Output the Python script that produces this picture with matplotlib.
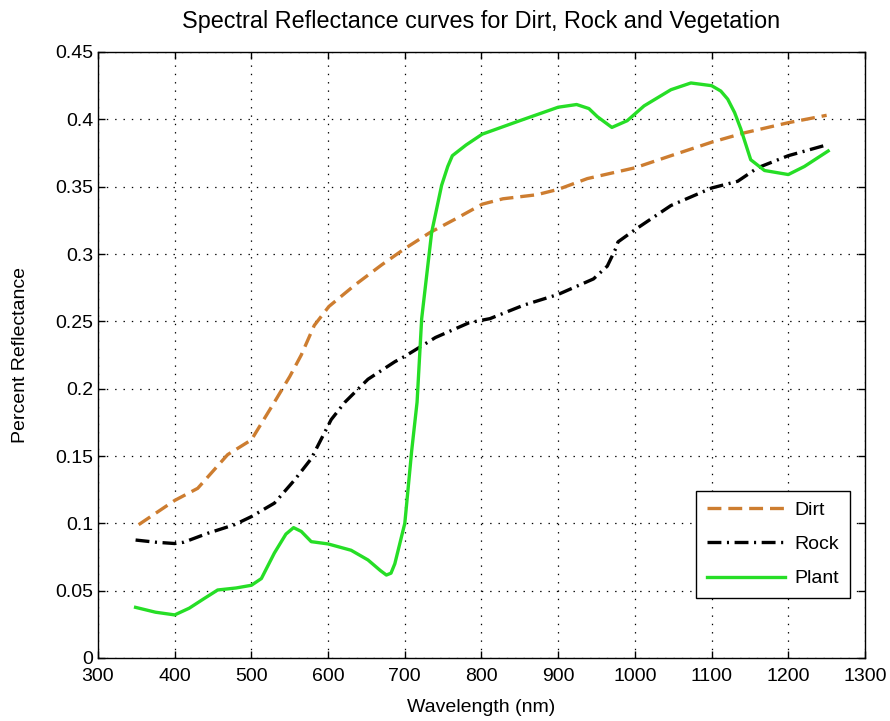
import matplotlib
matplotlib.use('Agg')
import matplotlib.pyplot as plt

# reflectance samples (wavelength in nm)
dirt_nm = [353, 400, 430, 469, 500, 530, 550, 565, 582, 601, 635, 670, 700, 733, 766,
           801, 828, 872, 900, 938, 1000, 1047, 1100, 1143, 1200, 1250]
dirt_refl = [0.099, 0.117, 0.126, 0.151, 0.162, 0.190, 0.209, 0.225, 0.247, 0.261, 0.277,
             0.292, 0.304, 0.316, 0.326, 0.337, 0.341, 0.344, 0.348, 0.356, 0.364,
             0.373, 0.383, 0.390, 0.3975, 0.403]

rock_nm = [349, 375, 400, 412, 443, 478, 500, 530, 556, 578, 604, 622, 652, 687,
           700, 740, 784, 811, 855, 900, 946, 964, 975, 978, 1000, 1047, 1100,
           1134, 1160, 1200, 1250]
rock_refl = [0.0876, 0.086, 0.085, 0.086, 0.0926, 0.099, 0.105, 0.115, 0.132, 0.148,
             0.177, 0.190, 0.207, 0.220, 0.224, 0.238, 0.249, 0.252, 0.262, 0.270,
             0.2815, 0.291, 0.304, 0.309, 0.318, 0.336, 0.349, 0.354, 0.364, 0.373,
             0.381]

plant_nm = [349, 375, 400, 419, 438, 456, 480, 500, 513, 530, 545, 555, 565, 578, 600,
            630, 652, 668, 676, 682, 687, 700, 709, 716, 722, 735, 748, 756, 762, 780,
            801, 850, 900, 924, 940, 951, 970, 990, 1012, 1047, 1073, 1100, 1112, 1121,
            1130, 1138, 1151, 1169, 1200, 1221, 1252]
plant_refl = [0.0376, 0.034, 0.032, 0.037, 0.044, 0.0505, 0.052, 0.054, 0.059, 0.078,
              0.092, 0.0968, 0.094, 0.0864, 0.0847, 0.080, 0.0728, 0.065, 0.0616,
              0.063, 0.070, 0.100, 0.154, 0.190, 0.252, 0.316, 0.351, 0.365, 0.373,
              0.381, 0.389, 0.399, 0.409, 0.411, 0.408, 0.402, 0.394, 0.399, 0.410,
              0.422, 0.427, 0.425, 0.421, 0.415, 0.405, 0.393, 0.370, 0.362, 0.359,
              0.365, 0.3765]

x_ticks = [300, 400, 500, 600, 700, 800, 900, 1000, 1100, 1200, 1300]
y_ticks = [0, 0.05, 0.1, 0.15, 0.2, 0.25, 0.3, 0.35, 0.4, 0.45]
y_ticklabels = ['0', '0.05', '0.1', '0.15', '0.2', '0.25', '0.3', '0.35', '0.4', '0.45']

plt.rcParams['font.family'] = ['Liberation Sans', 'DejaVu Sans']
plt.rcParams['font.size'] = 14
plt.rcParams['lines.scale_dashes'] = False

fig = plt.figure(figsize=(8.9, 7.21), dpi=100)
ax = fig.add_axes([98 / 890, 1 - 658 / 721, 767 / 890, 606 / 721])

ax.plot(dirt_nm, dirt_refl, color='#CD7D30', lw=2.4, linestyle=(0, (10, 5)), label='Dirt')
ax.plot(rock_nm, rock_refl, color='black', lw=2.4, linestyle=(0, (10, 4, 1.5, 4)), label='Rock')
ax.plot(plant_nm, plant_refl, color='#26DE26', lw=2.4, label='Plant')

ax.set_xlim(300, 1300)
ax.set_ylim(0, 0.45)
ax.set_xticks(x_ticks)
ax.set_yticks(y_ticks)
ax.set_yticklabels(y_ticklabels)
ax.grid(True, color='black', linestyle=(0, (1, 5)), linewidth=0.9)
ax.tick_params(direction='in', top=True, right=True, length=5, width=1)
ax.tick_params(axis='x', pad=7)
for s in ax.spines.values():
    s.set_linewidth(1)

ax.set_title('Spectral Reflectance curves for Dirt, Rock and Vegetation', pad=17)
ax.set_xlabel('Wavelength (nm)', labelpad=10)
ax.set_ylabel('Percent Reflectance', labelpad=19)

leg = ax.legend(loc='lower right', bbox_to_anchor=(0.980, 0.099), borderaxespad=0,
                fancybox=False, framealpha=1, edgecolor='black', handlelength=4.0,
                labelspacing=0.85, handletextpad=0.5, borderpad=0.55)
leg.get_frame().set_linewidth(1)

fig.savefig('out.png', dpi=100)
